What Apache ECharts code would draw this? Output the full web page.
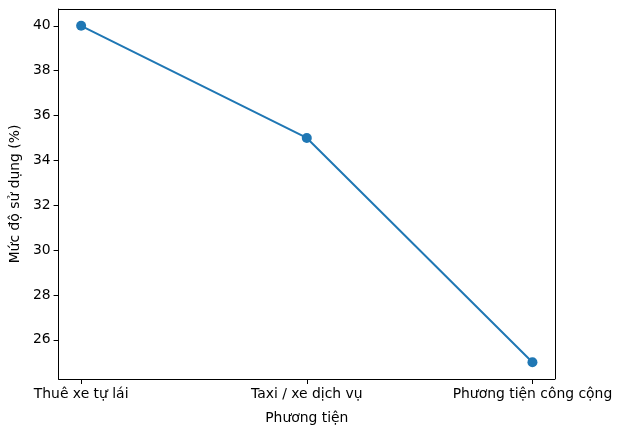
<!DOCTYPE html>
<html>
<head>
<meta charset="utf-8">
<script src="https://cdn.jsdelivr.net/npm/echarts@6/dist/echarts.min.js"></script>
<style>
  html, body { margin: 0; padding: 0; background: #fff; }
  #container { width: 620px; height: 433px; }
</style>
</head>
<body>
<div id="container"></div>
<script>
// Dữ liệu
var categories = ['Thuê xe tự lái', 'Taxi / xe dịch vụ', 'Phương tiện công cộng'];
var usage = [40, 35, 25];
var yTicks = [26, 28, 30, 32, 34, 36, 38, 40];

document.addEventListener('DOMContentLoaded', function () {
    var dom = document.getElementById('container');
    var myChart = echarts.init(dom, null, { renderer: 'canvas' });

    var font = 'DejaVu Sans';
    var points = usage.map(function (v, i) { return [i, v]; });

    var option = {
        animation: false,
        textStyle: { fontFamily: font },
        grid: { left: 58, right: 65, top: 9, bottom: 54, containLabel: false, show: false },
        xAxis: {
            type: 'value',
            min: -0.1,
            max: 2.1,
            name: 'Phương tiện',
            nameLocation: 'middle',
            nameGap: 32,
            nameTextStyle: { color: '#000', fontSize: 13.9, fontFamily: font },
            axisLine: { show: true, onZero: false, lineStyle: { color: '#000', width: 1 } },
            axisTick: { show: true, length: 5, customValues: [0, 1, 2], lineStyle: { color: '#000' } },
            axisLabel: {
                customValues: [0, 1, 2],
                color: '#000', fontSize: 13.9, fontFamily: font, margin: 8,
                formatter: function (v) { return categories[Math.round(v)]; }
            },
            splitLine: { show: false }
        },
        yAxis: {
            type: 'value',
            min: 24.25,
            max: 40.75,
            name: 'Mức độ sử dụng (%)',
            nameLocation: 'middle',
            nameGap: 34,
            nameTextStyle: { color: '#000', fontSize: 13.9, fontFamily: font },
            axisLine: { show: true, onZero: false, lineStyle: { color: '#000', width: 1 } },
            axisTick: { show: true, length: 5, customValues: yTicks, lineStyle: { color: '#000' } },
            axisLabel: { customValues: yTicks, color: '#000', fontSize: 13.9, fontFamily: font, margin: 8 },
            splitLine: { show: false }
        },
        series: [
            {
                type: 'line',
                data: points,
                symbol: 'circle',
                symbolSize: 10,
                lineStyle: { color: '#1f77b4', width: 2 },
                itemStyle: { color: '#1f77b4' }
            }
        ],
        graphic: [
            // khung trên và phải
            { type: 'line', shape: { x1: 58, y1: 9.5, x2: 555.5, y2: 9.5 }, style: { stroke: '#000', lineWidth: 1 } },
            { type: 'line', shape: { x1: 555.5, y1: 9, x2: 555.5, y2: 379 }, style: { stroke: '#000', lineWidth: 1 } }
        ]
    };

    myChart.setOption(option);
    window.addEventListener('resize', myChart.resize);
});
</script>
</body>
</html>
